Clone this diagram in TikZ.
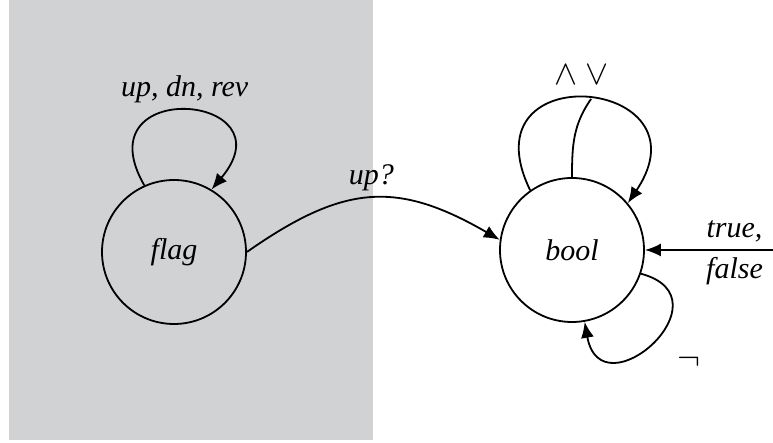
\documentclass[tikz,border=0pt]{standalone}
\usepackage{fontspec}
\setmainfont{Liberation Serif}
\usepackage{tikz}
\usetikzlibrary{arrows.meta}
\definecolor{bggray}{RGB}{209,210,212}

\begin{document}
\begin{tikzpicture}[x=0.5pt,y=0.5pt,line width=0.9pt,
  >={Latex[length=8pt,width=6.5pt]},
  every node/.style={font=\fontsize{15}{18}\selectfont\itshape},
  st/.style={draw,circle,minimum size=72pt,inner sep=0pt}]
\useasboundingbox (0,0) rectangle (773,443);
\fill[bggray] (9,3) rectangle (373,443);
\node[st] (flag) at (174,191) {flag};
\node[st] (bool) at (572,193) {bool};
\coordinate (src) at (773,193);
% loops and transitions
\draw[->] (flag.114) to[out=120,in=50,distance=63pt] node[above] {up, dn, rev} (flag.59);
\draw[->] (flag.east) to[out=35,in=150,looseness=1.2] node[above] {up?} (bool.172);
\draw[->] (bool.125) to[out=116,in=56,distance=76pt] coordinate[pos=0.52] (top) (bool.40);
\draw (bool.north) to[out=90,in=235] (top);
\draw[->] (src) -- node[pos=0.3,above] {true,} node[pos=0.3,below] {false} (bool.east);
\draw[->] (bool.-19) to[out=-15,in=-80,distance=47pt] (bool.-80);
\node[font=\fontsize{18}{20}\selectfont] (andor) at (582,368) {$\wedge$\hspace{4pt}$\vee$};
\node[font=\fontsize{17}{20}\selectfont] (neg) at (689,81) {$\neg$};
\end{tikzpicture}
\end{document}
